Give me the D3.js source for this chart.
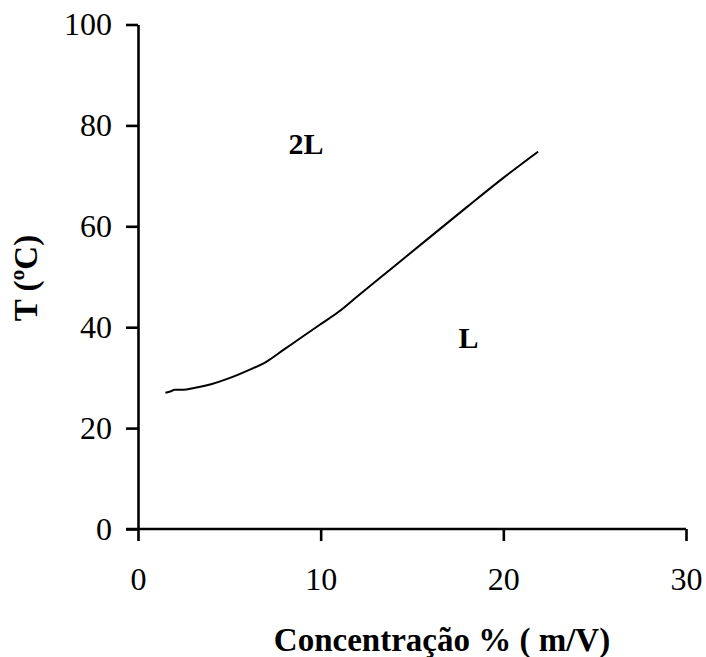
<!DOCTYPE html>
<html>
<head>
<meta charset="utf-8">
<script src="https://cdn.jsdelivr.net/npm/d3@7"></script>
<style>
  body { margin: 0; background: #fff; }
  svg { display: block; font-family: "Liberation Serif", "Times New Roman", serif; }
</style>
</head>
<body>
<svg id="chart" width="706" height="657"></svg>
<script>
// Phase boundary: concentration (% m/V) vs. temperature (°C)
const concentration = [1.5, 1.8, 2.0, 2.5, 3.0, 4.0, 5.0, 6.0, 7.0, 8.0, 9.0, 10.0, 11.0, 12.0, 14.0, 16.0, 18.0, 20.0, 21.9];
const temperature   = [27.0, 27.3, 27.6, 27.6, 27.9, 28.7, 29.9, 31.4, 33.1, 35.6, 38.1, 40.6, 43.1, 46.1, 52.0, 57.9, 63.8, 69.6, 74.8];
const xTicks = [0, 10, 20, 30];
const yTicks = [0, 20, 40, 60, 80, 100];
const regionLabels = [
  { text: "2L", x: 9.2, y: 76.5 },
  { text: "L",  x: 18.1, y: 37.9 }
];

const serif = "'Liberation Serif', 'Times New Roman', serif";
const svg = d3.select("#chart");
const x = d3.scaleLinear().domain([0, 30]).range([138, 686]);
const y = d3.scaleLinear().domain([0, 100]).range([529, 24.5]);

// Axes
const xAxis = d3.axisBottom(x).tickValues(xTicks).tickSize(12).tickSizeOuter(0).tickPadding(26);
const yAxis = d3.axisLeft(y).tickValues(yTicks).tickSize(12).tickSizeOuter(0).tickPadding(14);

const gx = svg.append("g").attr("transform", `translate(0,${y(0)})`).call(xAxis);
const gy = svg.append("g").attr("transform", `translate(${x(0)},0)`).call(yAxis);

[gx, gy].forEach(g => {
  g.attr("font-family", serif).attr("font-size", 32);
  g.select(".domain").attr("stroke", "#000").attr("stroke-width", 2.6);
  g.selectAll(".tick line").attr("stroke", "#000").attr("stroke-width", 2.6);
  g.selectAll(".tick text").attr("fill", "#000");
});
// x axis line continues left to meet the y tick at zero
gx.select(".domain").attr("d", `M${x(0) - 12},0H${x(30)}`);

// Boundary curve
const line = d3.line()
  .x((d, i) => x(concentration[i]))
  .y(d => y(d))
  .curve(d3.curveMonotoneX);

svg.append("path")
  .datum(temperature)
  .attr("d", line)
  .attr("fill", "none")
  .attr("stroke", "#000")
  .attr("stroke-width", 2);

// Phase region labels
svg.selectAll("text.region")
  .data(regionLabels)
  .enter().append("text")
  .attr("class", "region")
  .attr("x", d => x(d.x))
  .attr("y", d => y(d.y))
  .attr("dy", "0.35em")
  .attr("text-anchor", "middle")
  .style("font-weight", "bold")
  .style("font-size", "30px")
  .text(d => d.text);

// Axis titles
svg.append("text")
  .attr("x", 442)
  .attr("y", 651)
  .attr("text-anchor", "middle")
  .style("font-weight", "bold")
  .style("font-size", "33px")
  .text("Concentração % ( m/V)");

svg.append("text")
  .attr("transform", "translate(37,278) rotate(-90)")
  .attr("text-anchor", "middle")
  .style("font-weight", "bold")
  .style("font-size", "33px")
  .text("T (ºC)");
</script>
</body>
</html>
